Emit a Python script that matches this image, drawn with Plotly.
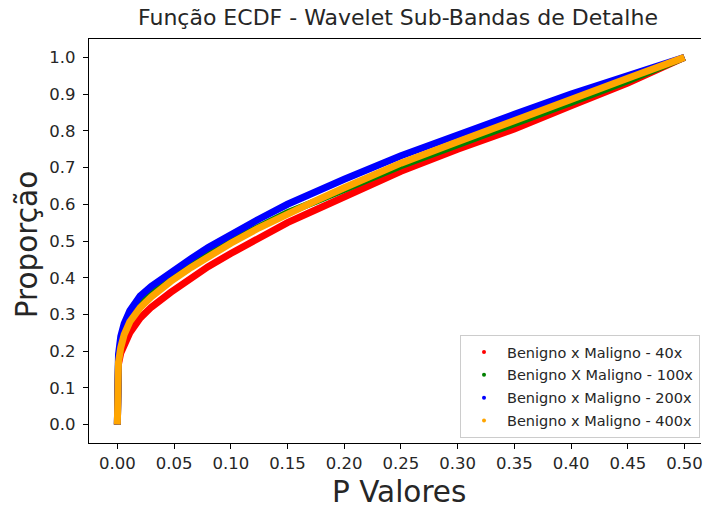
import plotly.graph_objects as go

# ---- data (ECDF of p-values) ----
p_values = [0, 0, 0.001, 0.003, 0.006, 0.011, 0.02, 0.03, 0.047, 0.065, 0.08, 0.1,
            0.125, 0.15, 0.175, 0.2, 0.25, 0.3, 0.35, 0.4, 0.45, 0.5]
prop_40x = [0, 0.155, 0.165, 0.195, 0.22, 0.25, 0.29, 0.32, 0.36, 0.398, 0.43, 0.466,
            0.51, 0.55, 0.585, 0.62, 0.69, 0.75, 0.805, 0.868, 0.93, 1.0]
prop_100x = [0, 0.13, 0.18, 0.22, 0.255, 0.29, 0.33, 0.358, 0.40, 0.437, 0.467, 0.50,
             0.54, 0.577, 0.608, 0.64, 0.705, 0.762, 0.817, 0.877, 0.936, 1.0]
prop_200x = [0, 0.12, 0.19, 0.24, 0.275, 0.31, 0.35, 0.377, 0.415, 0.452, 0.482, 0.518,
             0.56, 0.60, 0.635, 0.668, 0.732, 0.79, 0.845, 0.9, 0.952, 1.0]
prop_400x = [0, 0.12, 0.17, 0.21, 0.245, 0.28, 0.318, 0.348, 0.39, 0.428, 0.458, 0.494,
             0.536, 0.575, 0.61, 0.645, 0.712, 0.77, 0.826, 0.886, 0.943, 1.0]

series_names = ["Benigno x Maligno - 40x", "Benigno X Maligno - 100x",
                "Benigno x Maligno - 200x", "Benigno x Maligno - 400x"]
series_values = [prop_40x, prop_100x, prop_200x, prop_400x]
series_colors = ["#ff0000", "#008000", "#0000ff", "#ffa500"]

x_ticks = [0.0, 0.05, 0.10, 0.15, 0.20, 0.25, 0.30, 0.35, 0.40, 0.45, 0.50]
y_ticks = [0.0, 0.1, 0.2, 0.3, 0.4, 0.5, 0.6, 0.7, 0.8, 0.9, 1.0]

FONT = "DejaVu Sans"
TXT = "#262626"

fig = go.Figure()
for name, vals, col in zip(series_names, series_values, series_colors):
    fig.add_trace(go.Scatter(x=p_values, y=vals, mode="lines",
                             line=dict(color=col, width=7),
                             showlegend=False, legendgroup=name, hoverinfo="skip"))
for name, col in zip(series_names, series_colors):
    fig.add_trace(go.Scatter(x=[None], y=[None], mode="markers", name=name,
                             marker=dict(color=col, size=4),
                             legendgroup=name, showlegend=True))

W, H = 703, 508
L, T, B = 89, 39, 65
PH = H - T - B
px_per_x = 1138.0
x_lo = -0.025
x_hi = x_lo + (W - L) / px_per_x

fig.update_layout(
    width=W, height=H,
    margin=dict(l=L, r=0, t=T, b=B, pad=0),
    paper_bgcolor="white", plot_bgcolor="white",
    font=dict(family=FONT, color=TXT),
    showlegend=True,
    legend=dict(x=(702 - L) / (W - L), xanchor="right",
                y=(H - B - 438) / PH, yanchor="bottom",
                bgcolor="white", bordercolor="#cccccc", borderwidth=1,
                itemwidth=36,
                font=dict(family=FONT, size=14.5, color=TXT),
                tracegroupgap=1, traceorder="grouped"),
    xaxis=dict(range=[x_lo, x_hi], tickvals=x_ticks,
               ticktext=[f"{v:.2f}" for v in x_ticks],
               showgrid=False, zeroline=False,
               showline=True, linecolor="black", linewidth=1.2, mirror=True,
               ticks="outside", ticklen=5, tickwidth=1.2, tickcolor="black",
               ticklabeloverflow="allow",
               tickfont=dict(family=FONT, size=16.5, color=TXT)),
    yaxis=dict(range=[-0.05, 1.05], tickvals=y_ticks,
               ticktext=[f"{v:.1f}" for v in y_ticks],
               showgrid=False, zeroline=False,
               showline=True, linecolor="black", linewidth=1.2, mirror=False,
               ticks="outside", ticklen=5, tickwidth=1.2, tickcolor="black",
               ticklabelstandoff=4,
               tickfont=dict(family=FONT, size=16.5, color=TXT)),
    annotations=[
        dict(text="Função ECDF - Wavelet Sub-Bandas de Detalhe", xref="paper", yref="paper",
             x=(399 - L) / (W - L), y=1 + (T - 18) / PH, xanchor="center", yanchor="middle",
             showarrow=False, font=dict(family=FONT, size=22, color=TXT)),
        dict(text="P Valores", xref="paper", yref="paper",
             x=(400 - L) / (W - L), y=-(492 - (H - B)) / PH, xanchor="center", yanchor="middle",
             height=30,
             showarrow=False, font=dict(family=FONT, size=29.5, color=TXT)),
        dict(text="Proporção", xref="paper", yref="paper", textangle=-90,
             x=-(L - 27) / (W - L), y=(H - B - 245) / PH, xanchor="center", yanchor="middle",
             showarrow=False, font=dict(family=FONT, size=29.5, color=TXT)),
    ],
)

fig.write_html("out.html")
